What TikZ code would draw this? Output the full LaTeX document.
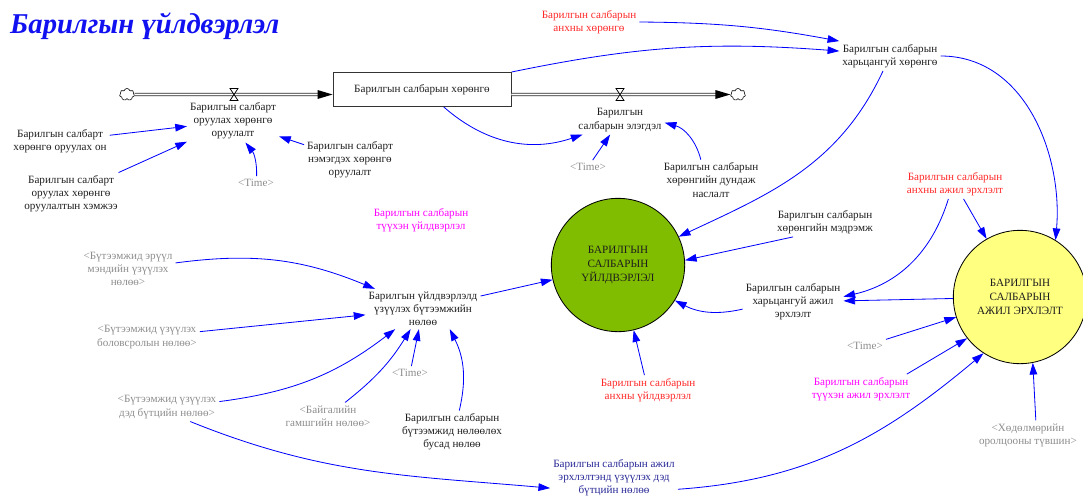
\documentclass[tikz,border=0pt]{standalone}
\usepackage{fontspec}
\setmainfont{Liberation Serif}
\usepackage{xcolor}
\usepackage{tikz}
\usetikzlibrary{arrows.meta, shapes.geometric, shapes.symbols}
\usetikzlibrary{calc,positioning}

\definecolor{linkblue}{RGB}{0,0,255}
\definecolor{textdark}{RGB}{30,30,30}
\definecolor{shadowgray}{RGB}{140,140,140}
\definecolor{initred}{RGB}{255,40,40}
\definecolor{histpink}{RGB}{255,0,255}
\definecolor{navytext}{RGB}{40,40,150}
\definecolor{titleblue}{RGB}{16,16,240}
\definecolor{prodgreen}{RGB}{128,188,0}
\definecolor{emplyellow}{RGB}{255,255,128}

\tikzset{
    var/.style={align=center, text=textdark, inner sep=2.5pt,
        font=\fontsize{9.5}{11.2}\selectfont},
    shadowvar/.style={var, text=shadowgray},
    link/.style={draw=linkblue, line width=0.7pt,
        -{Triangle[length=10pt,width=6.5pt]}},
    pipe/.style={draw=black!85, line width=0.6pt, double=white,
        double distance=1.6pt},
    stockbox/.style={var, draw=black!80, line width=0.8pt,
        minimum width=5.34cm, minimum height=1.02cm},
    bigvar/.style={var, circle, draw=black, line width=0.7pt,
        minimum size=4cm, inner sep=0pt,
        font=\fontsize{9.5}{12}\selectfont},
    sink/.style={cloud, draw, cloud puffs=7, aspect=1.2,
        minimum width=0.45cm, minimum height=0.36cm, inner sep=0pt,
        line width=0.5pt},
    valve/.pic={\draw[fill=white, line width=0.6pt]
        (-4,-6) -- (4,-6) -- (-4,6) -- (4,6) -- cycle;},
}

\begin{document}
\begin{tikzpicture}[x=0.03cm, y=-0.03cm]
    \useasboundingbox (0,0) rectangle (1083,498);

    % Title
    \node[anchor=base west, inner sep=0pt, text=titleblue,
        font=\fontsize{24.5}{27}\selectfont\bfseries\itshape]
        (title) at (10,33) {Барилгын үйлдвэрлэл};

    % Stock and flows
    \node[stockbox] (stock) at (422,89.5) {Барилгын салбарын хөрөнгө};
    \node[sink] (cloudL) at (127,94.5) {};
    \node[sink] (cloudR) at (738,94.5) {};
    \coordinate (v1) at (234,94.5);
    \coordinate (v2) at (620,94.5);

    \draw[pipe] (cloudL) -- ($(stock.west |- v1)+(-14,0)$);
    \fill[black] (stock.west |- v1) -- ++(-15,-4.5) -- ++(0,9) -- cycle;
    \draw[pipe] (stock.east |- v2) -- ($(cloudR.west)+(-14,0)$);
    \fill[black] (cloudR.west) -- ++(-15,-4.5) -- ++(0,9) -- cycle;
    \pic at (v1) {valve};
    \pic at (v2) {valve};

    \node[var] (inv) at (233,121) {Барилгын салбарт\\оруулах хөрөнгө\\оруулалт};
    \node[var] (dep) at (620,120) {Барилгын\\салбарын элэгдэл};

    % Auxiliaries
    \node[var] (year) at (60,141) {Барилгын салбарт\\хөрөнгө оруулах он};
    \node[var] (amount) at (71,194) {Барилгын салбарт\\оруулах хөрөнгө\\оруулалтын хэмжээ};
    \node[shadowvar] (time1) at (256,183) {<Time>};
    \node[var] (addinv) at (350,160) {Барилгын салбарт\\нэмэгдэх хөрөнгө\\оруулалт};
    \node[var, text=initred] (initcap) at (589,22) {Барилгын салбарын\\анхны хөрөнгө};
    \node[var] (relcap) at (890,56) {Барилгын салбарын\\харьцангуй хөрөнгө};
    \node[shadowvar] (time2) at (588,167) {<Time>};
    \node[var] (life) at (711,180) {Барилгын салбарын\\хөрөнгийн дундаж\\наслалт};
    \node[var] (sens) at (825,222) {Барилгын салбарын\\хөрөнгийн мэдрэмж};
    \node[var, text=initred] (initemp) at (955,184) {Барилгын салбарын\\анхны ажил эрхлэлт};
    \node[var, text=histpink] (histprod) at (421,220) {Барилгын салбарын\\түүхэн үйлдвэрлэл};

    \node[bigvar, fill=prodgreen] (prod) at (618,265) {БАРИЛГЫН\\САЛБАРЫН\\ҮЙЛДВЭРЛЭЛ};
    \node[bigvar, fill=emplyellow] (empl) at (1020,297) {БАРИЛГЫН\\САЛБАРЫН\\АЖИЛ ЭРХЛЭЛТ};

    \node[var] (relemp) at (793,302) {Барилгын салбарын\\харьцангуй ажил\\эрхлэлт};
    \node[shadowvar] (time3) at (865,346) {<Time>};
    \node[var, text=histpink] (histemp) at (861,389) {Барилгын салбарын\\түүхэн ажил эрхлэлт};
    \node[shadowvar] (partic) at (1028,435) {<Хөдөлмөрийн\\оролцооны түвшин>};

    \node[shadowvar] (health) at (128,269) {<Бүтээмжид эрүүл\\мэндийн үзүүлэх\\нөлөө>};
    \node[shadowvar] (educ) at (147,337) {<Бүтээмжид үзүүлэх\\боловсролын нөлөө>};
    \node[shadowvar] (infra) at (167,407) {<Бүтээмжид үзүүлэх\\дэд бүтцийн нөлөө>};
    \node[shadowvar] (disaster) at (328,416) {<Байгалийн\\гамшгийн нөлөө>};
    \node[shadowvar] (time4) at (410,373) {<Time>};
    \node[var] (productivity) at (423,309) {Барилгын үйлдвэрлэлд\\үзүүлэх бүтээмжийн\\нөлөө};
    \node[var] (otherfx) at (452,432) {Барилгын салбарын\\бүтээмжид нөлөөлөх\\бусад нөлөө};
    \node[var, text=initred] (initprod) at (648,390) {Барилгын салбарын\\анхны үйлдвэрлэл};
    \node[var, text=navytext] (infraemp) at (614,478) {Барилгын салбарын ажил\\эрхлэлтэнд үзүүлэх дэд\\бүтцийн нөлөө};

    % Investment inflow
    \draw[link] (year) -- (inv);
    \draw[link] (amount) -- (inv);
    \draw[link] (time1) to[bend right=20] (inv.-60);
    \draw[link] (addinv) -- (inv);

    % Depreciation
    \draw[link] (stock) to[bend right=30] (dep);
    \draw[link] (time2) -- (dep);
    \draw[link] (life) to[bend right=30] (dep);

    % Relative capital
    \draw[link] (stock.north east) to[bend left=8] (relcap);
    \draw[link] (initcap.east) to[bend left=5] (relcap.north west);
    \draw[link] (relcap) to[out=245, in=25] (prod);
    \draw[link] (relcap.east) to[out=0, in=85] (empl.58);

    % Employment
    \draw[link] (initemp) -- (empl);
    \draw[link] (initemp) to[bend left=30] (relemp);
    \draw[link] (empl) -- (relemp);
    \draw[link] (relemp) to[bend left=20] (prod);
    \draw[link] (sens.-155) -- (prod.4);
    \draw[link] (time3) -- (empl);
    \draw[link] (histemp.18) -- (empl.218);
    \draw[link] (partic.62) -- (empl.-79);
    \draw[link] (infraemp.-10) to[out=4, in=220] (empl.237);

    % Productivity
    \draw[link] (productivity) -- (prod);
    \draw[link] (initprod) -- (prod);
    \draw[link] (health) to[bend left=15] (productivity);
    \draw[link] (educ) -- (productivity);
    \draw[link] (infra) to[bend right=15] (productivity);
    \draw[link] (disaster) to[bend right=10] (productivity);
    \draw[link] (time4) -- (productivity);
    \draw[link] (otherfx) to[bend right=20] (productivity.-37);
    \draw[link] (infra.-32) to[out=-22, in=175] (infraemp.189);

\end{tikzpicture}
\end{document}
